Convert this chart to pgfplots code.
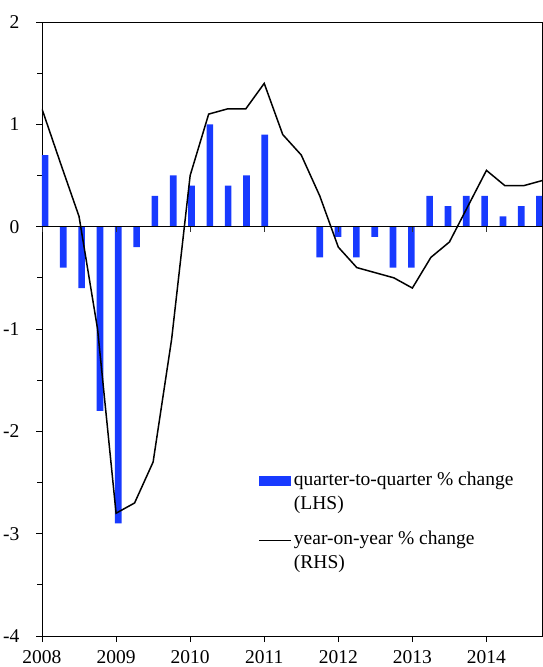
\documentclass[border=0pt]{standalone}
\usepackage{fontspec}
\setmainfont{Liberation Serif}
\usepackage{pgfplots}
\usepackage{pgfplotstable}
\pgfplotsset{compat=1.18}
\definecolor{barblue}{RGB}{24,58,255}
\newcommand{\cfont}{\fontsize{19.5}{23.5}\selectfont}
\pgfplotstableread{
x y
2008.040 0.7
2008.287 -0.4
2008.535 -0.6
2008.782 -1.8
2009.029 -2.9
2009.277 -0.2
2009.524 0.3
2009.771 0.5
2010.018 0.4
2010.266 1.0
2010.513 0.4
2010.760 0.5
2011.008 0.9
2011.255 0.0
2011.502 0.0
2011.750 -0.3
2011.997 -0.1
2012.244 -0.3
2012.491 -0.1
2012.739 -0.4
2012.986 -0.4
2013.233 0.3
2013.481 0.2
2013.728 0.3
2013.975 0.3
2014.223 0.1
2014.470 0.2
2014.717 0.3
}\qoq
\pgfplotstableread{
x y
2008.00 1.15
2008.25 0.62
2008.50 0.10
2008.75 -1.00
2009.00 -2.80
2009.25 -2.70
2009.50 -2.30
2009.75 -1.10
2010.00 0.50
2010.25 1.10
2010.50 1.15
2010.75 1.15
2011.00 1.40
2011.25 0.90
2011.50 0.70
2011.75 0.30
2012.00 -0.20
2012.25 -0.40
2012.50 -0.45
2012.75 -0.50
2013.00 -0.60
2013.25 -0.30
2013.50 -0.15
2013.75 0.20
2014.00 0.55
2014.25 0.40
2014.50 0.40
2014.75 0.45
}\yoy
\begin{document}
\cfont
\begin{tikzpicture}
\path[use as bounding box] (-42pt,-31pt) rectangle (501pt,636pt);
\begin{axis}[
  scale only axis, width=500pt, height=614pt,
  xmin=2008, xmax=2014.75, ymin=-4, ymax=2,
  xtick={2008,2009,2010,2011,2012,2013,2014},
  xticklabels={2008,2009,2010,2011,2012,2013,2014},
  ytick={-4,-3,-2,-1,0,1,2},
  minor ytick={-3.5,-2.5,-1.5,-0.5,0.5,1.5},
  xtick pos=left, ytick pos=left,
  tick align=outside, major tick length=6pt, minor tick length=5pt,
  tick style={black, line width=0.8pt},
  axis line style={line width=0.9pt},
  /pgf/number format/assume math mode=true,
  xticklabel style={font=\cfont, yshift=-1.5pt},
  yticklabel style={font=\cfont, xshift=-10pt},
  legend style={at={(axis cs:2010.92,-2.38)}, anchor=north west, draw=none, fill=none,
    font=\cfont, inner sep=0pt, row sep=15pt,
    cells={anchor=west, align=left}},
  legend cell align=left,
]
\addplot[draw=none, fill=barblue, ybar, bar width=0.09, bar shift=0pt,
  legend image code/.code={\fill[barblue] (0pt,6pt) rectangle (32pt,16pt);}]
  table[x=x,y=y] {\qoq};
\addlegendentry{quarter-to-quarter \% change\\(LHS)}
\addplot[black, line width=1.5pt, mark=none,
  legend image code/.code={\draw[black, line width=1.5pt] (0pt,11pt) -- (32pt,11pt);}]
  table[x=x,y=y] {\yoy};
\addlegendentry{year-on-year \% change\\(RHS)}
\end{axis}
\begin{axis}[
  scale only axis, width=500pt, height=614pt,
  xmin=2008, xmax=2014.75, ymin=-4, ymax=2,
  axis x line=middle, axis y line=none,
  xtick={2008,2009,2010,2011,2012,2013,2014},
  xticklabels={},
  tick align=outside, major tick length=5pt,
  tick style={black!80, line width=0.8pt},
  axis line style={-, black, line width=0.9pt},
]
\end{axis}
\end{tikzpicture}
\end{document}
